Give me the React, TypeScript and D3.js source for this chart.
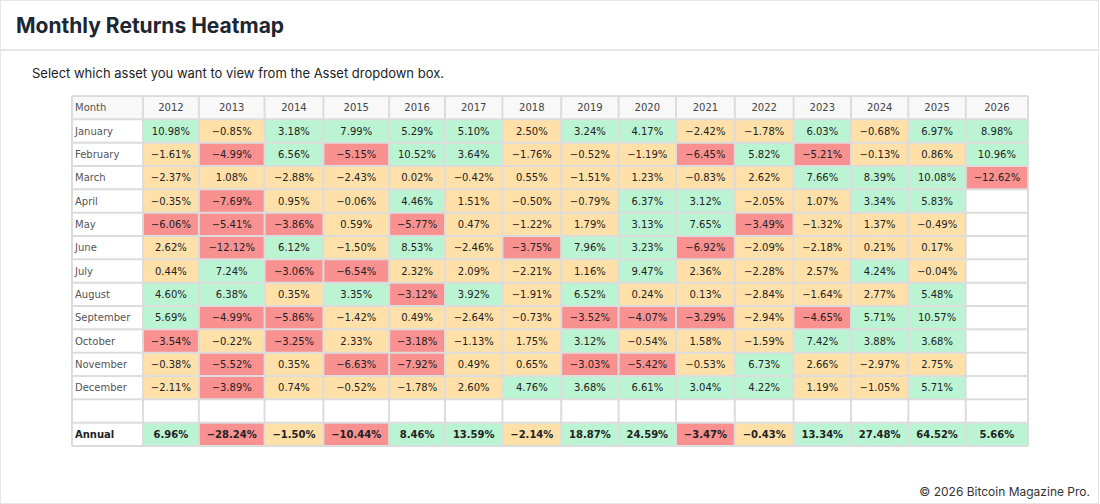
import { useMemo } from 'react';
import * as d3 from 'd3';

const years = ['2012', '2013', '2014', '2015', '2016', '2017', '2018', '2019', '2020', '2021', '2022', '2023', '2024', '2025', '2026'];
const months = ['January', 'February', 'March', 'April', 'May', 'June', 'July', 'August', 'September', 'October', 'November', 'December'];

// one array per year, January..December (null = no data yet)
const r2012 = [10.98, -1.61, -2.37, -0.35, -6.06, 2.62, 0.44, 4.6, 5.69, -3.54, -0.38, -2.11];
const r2013 = [-0.85, -4.99, 1.08, -7.69, -5.41, -12.12, 7.24, 6.38, -4.99, -0.22, -5.52, -3.89];
const r2014 = [3.18, 6.56, -2.88, 0.95, -3.86, 6.12, -3.06, 0.35, -5.86, -3.25, 0.35, 0.74];
const r2015 = [7.99, -5.15, -2.43, -0.06, 0.59, -1.5, -6.54, 3.35, -1.42, 2.33, -6.63, -0.52];
const r2016 = [5.29, 10.52, 0.02, 4.46, -5.77, 8.53, 2.32, -3.12, 0.49, -3.18, -7.92, -1.78];
const r2017 = [5.1, 3.64, -0.42, 1.51, 0.47, -2.46, 2.09, 3.92, -2.64, -1.13, 0.49, 2.6];
const r2018 = [2.5, -1.76, 0.55, -0.5, -1.22, -3.75, -2.21, -1.91, -0.73, 1.75, 0.65, 4.76];
const r2019 = [3.24, -0.52, -1.51, -0.79, 1.79, 7.96, 1.16, 6.52, -3.52, 3.12, -3.03, 3.68];
const r2020 = [4.17, -1.19, 1.23, 6.37, 3.13, 3.23, 9.47, 0.24, -4.07, -0.54, -5.42, 6.61];
const r2021 = [-2.42, -6.45, -0.83, 3.12, 7.65, -6.92, 2.36, 0.13, -3.29, 1.58, -0.53, 3.04];
const r2022 = [-1.78, 5.82, 2.62, -2.05, -3.49, -2.09, -2.28, -2.84, -2.94, -1.59, 6.73, 4.22];
const r2023 = [6.03, -5.21, 7.66, 1.07, -1.32, -2.18, 2.57, -1.64, -4.65, 7.42, 2.66, 1.19];
const r2024 = [-0.68, -0.13, 8.39, 3.34, 1.37, 0.21, 4.24, 2.77, 5.71, 3.88, -2.97, -1.05];
const r2025 = [6.97, 0.86, 10.08, 5.83, -0.49, 0.17, -0.04, 5.48, 10.57, 3.68, 2.75, 5.71];
const r2026 = [8.98, 10.96, -12.62, null, null, null, null, null, null, null, null, null];
const annual = [6.96, -28.24, -1.5, -10.44, 8.46, 13.59, -2.14, 18.87, 24.59, -3.47, -0.43, 13.34, 27.48, 64.52, 5.66];

const yearValues: (number | null)[][] = [r2012, r2013, r2014, r2015, r2016, r2017, r2018, r2019, r2020, r2021, r2022, r2023, r2024, r2025, r2026];

const W = 1100;
const H = 504;
const tableLeft = 72;
const tableRight = 1028;
const tableTop = 96;
const tableBottom = 446;
const fontSize = 10;
const family = '"DejaVu Sans", Verdana, sans-serif';
const cellFont = `${fontSize}px ${family}`;
const boldFont = `bold ${fontSize}px ${family}`;

const fmt = (v: number) => `${v.toFixed(2).replace('-', '\u2212')}%`;

const cellColor = (v: number | null) => {
  if (v === null) return '#ffffff';
  if (v > 3) return '#bbf4d3';
  if (v < -3) return '#fa9191';
  return '#fee0a8';
};

let ctx: CanvasRenderingContext2D | null = null;
function textWidth(s: string, font: string) {
  if (!ctx) ctx = document.createElement('canvas').getContext('2d');
  if (!ctx) return s.length * 7;
  ctx.font = font;
  return ctx.measureText(s).width;
}

export default function App() {
  // column widths like an auto-layout table: content width + padding, then stretched to the table width
  const cols = useMemo(() => {
    const pad = 16;
    const raw = [Math.max(...months.map((m) => textWidth(m, cellFont)), textWidth('Annual', boldFont)) + pad];
    years.forEach((y, i) => {
      const texts = yearValues[i].filter((v) => v !== null).map((v) => textWidth(fmt(v as number), cellFont));
      raw.push(Math.max(...texts, textWidth(fmt(annual[i]), boldFont), textWidth(y, cellFont)) + pad);
    });
    const cum = [0];
    raw.forEach((w) => cum.push(cum[cum.length - 1] + w));
    const x = d3.scaleLinear().domain([0, cum[cum.length - 1]]).range([tableLeft, tableRight]);
    return cum.slice(0, -1).map((c, i) => ({ x0: x(c), x1: x(cum[i + 1]) }));
  }, []);

  const rowKeys = ['header', ...months, 'blank', 'Annual'];
  const y = d3.scaleBand<string>().domain(rowKeys).range([tableTop, tableBottom]);
  const bh = y.bandwidth();

  return (
    <svg width={W} height={H} style={{ position: 'absolute', left: 0, top: 0, background: '#fff' }}>
      <rect x={0.5} y={0.5} width={W - 2} height={H - 1} fill="#fff" stroke="#e6e6e6" />
      <text x={16} y={33} fontFamily="Inter, sans-serif" fontWeight={700} fontSize={21} fill="#1d2631">
        Monthly Returns Heatmap
      </text>
      <line x1={0} x2={W - 2} y1={50} y2={50} stroke="#e6e6e6" strokeWidth={2} />
      <text x={32} y={78} fontFamily="Inter, sans-serif" fontSize={13} fill="#222">
        Select which asset you want to view from the Asset dropdown box.
      </text>

      <g>
        {rowKeys.map((key) => {
          const mi = months.indexOf(key);
          const top = y(key) as number;
          const isHeader = key === 'header';
          const isAnnual = key === 'Annual';
          const isBlank = key === 'blank';
          return (
            <g key={key}>
              {cols.map((c, ci) => {
                let fill = '#ffffff';
                let label = '';
                if (isHeader) {
                  fill = '#f8f8f8';
                  label = ci === 0 ? 'Month' : years[ci - 1];
                } else if (ci === 0) {
                  label = isBlank ? '' : key;
                } else if (isAnnual) {
                  const v = annual[ci - 1];
                  fill = cellColor(v);
                  label = fmt(v);
                } else if (!isBlank) {
                  const v = yearValues[ci - 1][mi];
                  fill = cellColor(v);
                  label = v === null ? '' : fmt(v);
                }
                return (
                  <g key={ci}>
                    <rect x={c.x0} y={top} width={c.x1 - c.x0} height={bh} fill={fill} />
                    {label && (
                      <text
                        x={ci === 0 ? c.x0 + 3 : (c.x0 + c.x1) / 2}
                        y={top + bh / 2}
                        dy="0.36em"
                        textAnchor={ci === 0 ? 'start' : 'middle'}
                        fontFamily={family}
                        fontSize={fontSize}
                        fontWeight={isAnnual ? 700 : 400}
                        fill={ci === 0 && !isAnnual ? '#555' : isHeader ? '#444' : '#222'}
                      >
                        {label}
                      </text>
                    )}
                  </g>
                );
              })}
            </g>
          );
        })}
        {/* grid lines */}
        {[...cols.map((c) => c.x0), tableRight].map((xv, i) => (
          <line key={`v${i}`} x1={xv} x2={xv} y1={tableTop} y2={tableBottom} stroke="#dcdcdc" strokeWidth={2} />
        ))}
        {[...rowKeys.map((k) => y(k) as number), tableBottom].map((yv, i) => (
          <line key={`h${i}`} x1={tableLeft} x2={tableRight} y1={yv} y2={yv} stroke="#dcdcdc" strokeWidth={2} />
        ))}
      </g>

      <text x={1090} y={496} textAnchor="end" fontFamily="Inter, sans-serif" fontSize={12} fill="#333">
        © 2026 Bitcoin Magazine Pro.
      </text>
    </svg>
  );
}
